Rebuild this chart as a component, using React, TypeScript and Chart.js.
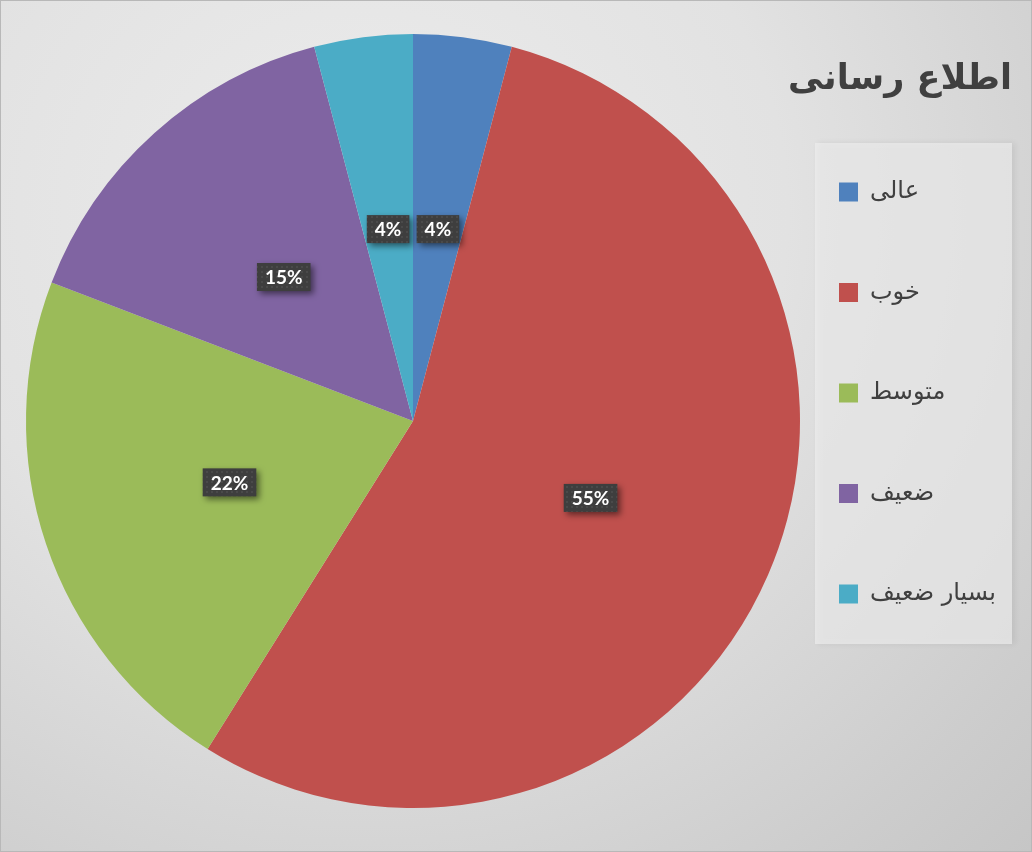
import React, { useEffect, useRef } from "react";
import { Chart, registerables } from "chart.js";

Chart.register(...registerables);

const chartTitle = "اطلاع رسانی";
const categories = ["عالی", "خوب", "متوسط", "ضعیف", "بسیار ضعیف"];
const counts = [3, 40, 16, 11, 3];
const colors = ["#4F81BD", "#C0504D", "#9BBB59", "#8064A2", "#4BACC6"];

function makePattern(ctx: CanvasRenderingContext2D) {
  const c = document.createElement("canvas");
  c.width = 5;
  c.height = 5;
  const p = c.getContext("2d")!;
  p.fillStyle = "#3e3e3e";
  p.fillRect(0, 0, 5, 5);
  p.fillStyle = "#4a4a4a";
  p.fillRect(1, 1, 2, 2);
  return ctx.createPattern(c, "repeat");
}

const overlayPlugin = {
  id: "overlay",
  afterDraw(chart: any) {
    const ctx: CanvasRenderingContext2D = chart.ctx;
    const meta = chart.getDatasetMeta(0);
    const data = chart.data.datasets[0].data as number[];
    const total = data.reduce((a, b) => a + b, 0);
    const pattern = makePattern(ctx);

    // data labels
    meta.data.forEach((arc: any, i: number) => {
      const pt = arc.getCenterPoint();
      const txt = Math.round((data[i] / total) * 100) + "%";
      ctx.save();
      ctx.font = "bold 19px Lato";
      const w = ctx.measureText(txt).width + 16;
      const h = 28;
      ctx.shadowColor = "rgba(0,0,0,0.5)";
      ctx.shadowBlur = 6;
      ctx.shadowOffsetX = 3;
      ctx.shadowOffsetY = 3;
      ctx.fillStyle = pattern || "#3e3e3e";
      ctx.fillRect(pt.x - w / 2, pt.y - h / 2, w, h);
      ctx.restore();
      ctx.save();
      ctx.font = "bold 19px Lato";
      ctx.fillStyle = "#ffffff";
      ctx.textAlign = "center";
      ctx.textBaseline = "middle";
      ctx.fillText(txt, pt.x, pt.y + 1);
      ctx.restore();
    });

    // title
    ctx.save();
    ctx.font = "bold 35px 'DejaVu Sans'";
    ctx.fillStyle = "#404040";
    ctx.textAlign = "right";
    ctx.textBaseline = "middle";
    ctx.fillText(chartTitle, 1012, 80);
    ctx.restore();

    // legend box
    const bx = 815, by = 143, bw = 197, bh = 501;
    ctx.save();
    ctx.shadowColor = "rgba(0,0,0,0.1)";
    ctx.shadowBlur = 6;
    ctx.shadowOffsetX = 3;
    ctx.fillStyle = "rgba(236,236,236,0.7)";
    ctx.fillRect(bx, by, bw, bh);
    ctx.restore();

    const labels = chart.data.labels as string[];
    labels.forEach((lab, i) => {
      const cy = 192 + i * 100.5;
      ctx.save();
      ctx.fillStyle = colors[i];
      ctx.fillRect(839, cy - 9.5, 19, 19);
      ctx.font = "24px 'DejaVu Sans'";
      ctx.fillStyle = "#404040";
      ctx.textAlign = "left";
      ctx.textBaseline = "middle";
      ctx.fillText(lab, 870, cy);
      ctx.restore();
    });
  },
};

export default function App() {
  const ref = useRef<HTMLCanvasElement>(null);
  useEffect(() => {
    document.body.style.margin = "0";
    const chart = new Chart(ref.current!, {
      type: "pie",
      data: {
        labels: categories,
        datasets: [
          {
            data: counts,
            backgroundColor: colors,
            borderWidth: 0,
          },
        ],
      },
      options: {
        responsive: false,
        animation: false,
        layout: { padding: { left: 26, top: 34, right: 232, bottom: 44 } },
        plugins: {
          legend: { display: false },
          title: { display: false },
          tooltip: { enabled: false },
        },
      },
      plugins: [overlayPlugin],
    });
    return () => chart.destroy();
  }, []);

  return (
    <div
      style={{
        position: "absolute",
        left: 0,
        top: 0,
        width: 1032,
        height: 852,
        boxSizing: "border-box",
        border: "1px solid #b8b8b8",
        background:
          "radial-gradient(ellipse at 35% 25%, #ececec 0%, #e2e2e2 45%, #cdcdcd 85%, #c6c6c6 100%)",
      }}
    >
      <canvas
        ref={ref}
        width={1032}
        height={852}
        style={{ position: "absolute", left: -1, top: -1, width: 1032, height: 852 }}
      />
    </div>
  );
}
